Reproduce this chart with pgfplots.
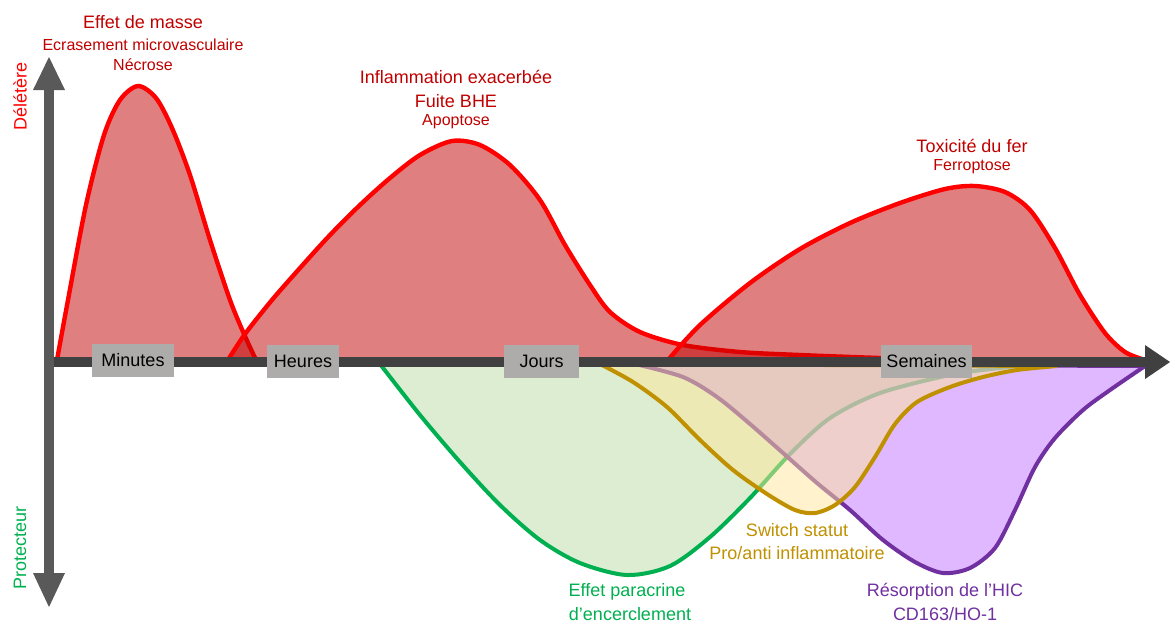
\documentclass[border=0pt]{standalone}
\usepackage{fontspec}
\setmainfont{Liberation Sans}
\usepackage{pgfplots}
\pgfplotsset{compat=1.18}

\definecolor{redline}{HTML}{FF0000}
\definecolor{redfill}{HTML}{C00000}
\definecolor{redtext}{HTML}{C00000}
\definecolor{greenline}{HTML}{00B050}
\definecolor{greenfill}{HTML}{A9D18E}
\definecolor{goldline}{HTML}{BF9000}
\definecolor{goldfill}{HTML}{FFE699}
\definecolor{purpleline}{HTML}{7030A0}
\definecolor{purplefill}{HTML}{C171FF}
\definecolor{axisdark}{HTML}{404040}
\definecolor{axisgray}{HTML}{595959}
\definecolor{boxgray}{HTML}{AEABAB}

\newcommand{\bigtxt}{\fontsize{9}{10.8}\selectfont}
\newcommand{\smalltxt}{\fontsize{8}{9.6}\selectfont}

\begin{document}
\begin{tikzpicture}
\begin{axis}[
    width=585pt, height=312pt, scale only axis,
    xmin=0, xmax=1170, ymin=0, ymax=624,
    y dir=reverse,
    hide axis, clip=false,
]
\path (axis cs:0,0) rectangle (axis cs:1170,624);

% deleterious peaks
\addplot[smooth, draw=redline, line width=2.2pt, fill=redfill, fill opacity=0.5]
    coordinates {(57,360) (68,300) (86,205) (104,135) (120,100) (138,86) (156,98)
                 (172,128) (190,175) (210,240) (230,300) (244,334) (256,360)} -- cycle;
\addplot[smooth, draw=redline, line width=2.2pt, fill=redfill, fill opacity=0.5]
    coordinates {(228,360) (245,334) (272,300) (300,268) (330,235) (360,205) (390,178)
                 (420,155) (452,141) (480,145) (510,165) (540,200) (565,245) (590,285)
                 (610,312) (640,332) (683,345) (740,352) (800,355) (880,358) (950,360)} -- cycle;
\addplot[smooth, draw=redline, line width=2.2pt, fill=redfill, fill opacity=0.5]
    coordinates {(668,360) (700,325) (750,283) (800,249) (850,223) (900,203) (945,189)
                 (975,186) (1005,192) (1030,210) (1055,248) (1080,295) (1105,333)
                 (1125,352) (1145,360)} -- cycle;

% protective curves
\addplot[smooth, draw=greenline, line width=2pt, fill=greenfill, fill opacity=0.4]
    coordinates {(380,364) (420,415) (460,462) (500,505) (540,540) (580,563) (627,575)
                 (670,566) (710,537) (750,498) (790,454) (830,418) (880,393) (950,375)
                 (1000,368) (1050,364)} -- cycle;
\addplot[smooth, draw=purpleline, line width=2pt, fill=purplefill, fill opacity=0.5]
    coordinates {(635,364) (683,377) (717,397) (750,424) (783,453) (817,483)
                 (850,510) (883,540) (915,562) (943,573) (970,568) (995,548) (1015,510)
                 (1035,467) (1055,438) (1083,410) (1110,390) (1145,366)} -- cycle;
\addplot[smooth, draw=goldline, line width=2pt, fill=goldfill, fill opacity=0.5]
    coordinates {(600,364) (633,382) (667,407) (700,440) (733,470) (767,494)
                 (795,510) (815,513) (835,505) (855,487) (875,457) (895,424) (917,402)
                 (950,387) (983,377) (1017,370) (1057,366)} -- cycle;

% axes
\draw[axisdark, line width=5pt] (axis cs:49,362) -- (axis cs:1146,362);
\fill[axisdark] (axis cs:1145,345) -- (axis cs:1170,362) -- (axis cs:1145,379) -- cycle;
\draw[axisgray, line width=5pt] (axis cs:49,89) -- (axis cs:49,574);
\fill[axisgray] (axis cs:33,90) -- (axis cs:49,57) -- (axis cs:65,90) -- cycle;
\fill[axisgray] (axis cs:33,573) -- (axis cs:49,607) -- (axis cs:65,573) -- cycle;

% time labels
\tikzset{tbox/.style={fill=boxgray, minimum height=16.5pt, inner sep=0pt, font=\bigtxt, text=black}}
\node[tbox, minimum width=41pt] at (axis cs:133,360.5) {Minutes};
\node[tbox, minimum width=36pt] at (axis cs:303,361.5) {Heures};
\node[tbox, minimum width=37.5pt] at (axis cs:541.5,361.5) {Jours};
\node[tbox, minimum width=45.5pt] at (axis cs:926.5,361.5) {Semaines};

% side labels
\node[rotate=90, font=\bigtxt, text=redline] at (axis cs:20,96) {Délétère};
\node[rotate=90, font=\bigtxt, text=greenline] at (axis cs:20,548) {Protecteur};

% annotations
\node[font=\bigtxt, text=redtext] at (axis cs:143,22) {Effet de masse};
\node[font=\smalltxt, text=redtext] at (axis cs:143,45) {Ecrasement microvasculaire};
\node[font=\smalltxt, text=redtext] at (axis cs:143,65) {Nécrose};
\node[font=\bigtxt, text=redtext] at (axis cs:456,77) {Inflammation exacerbée};
\node[font=\bigtxt, text=redtext] at (axis cs:456,101) {Fuite BHE};
\node[font=\smalltxt, text=redtext] at (axis cs:456,122) {Apoptose};
\node[font=\bigtxt, text=redtext] at (axis cs:972,146) {Toxicité du fer};
\node[font=\smalltxt, text=redtext] at (axis cs:972,167) {Ferroptose};
\node[font=\bigtxt, text=greenline] at (axis cs:627,592) {Effet paracrine};
\node[font=\bigtxt, text=greenline] at (axis cs:630,614) {d’encerclement};
\node[font=\bigtxt, text=goldline] at (axis cs:797,530) {Switch statut};
\node[font=\bigtxt, text=goldline] at (axis cs:797,553) {Pro/anti inflammatoire};
\node[font=\bigtxt, text=purpleline] at (axis cs:945,592) {Résorption de l’HIC};
\node[font=\bigtxt, text=purpleline] at (axis cs:945,614) {CD163/HO-1};
\end{axis}
\end{tikzpicture}
\end{document}
